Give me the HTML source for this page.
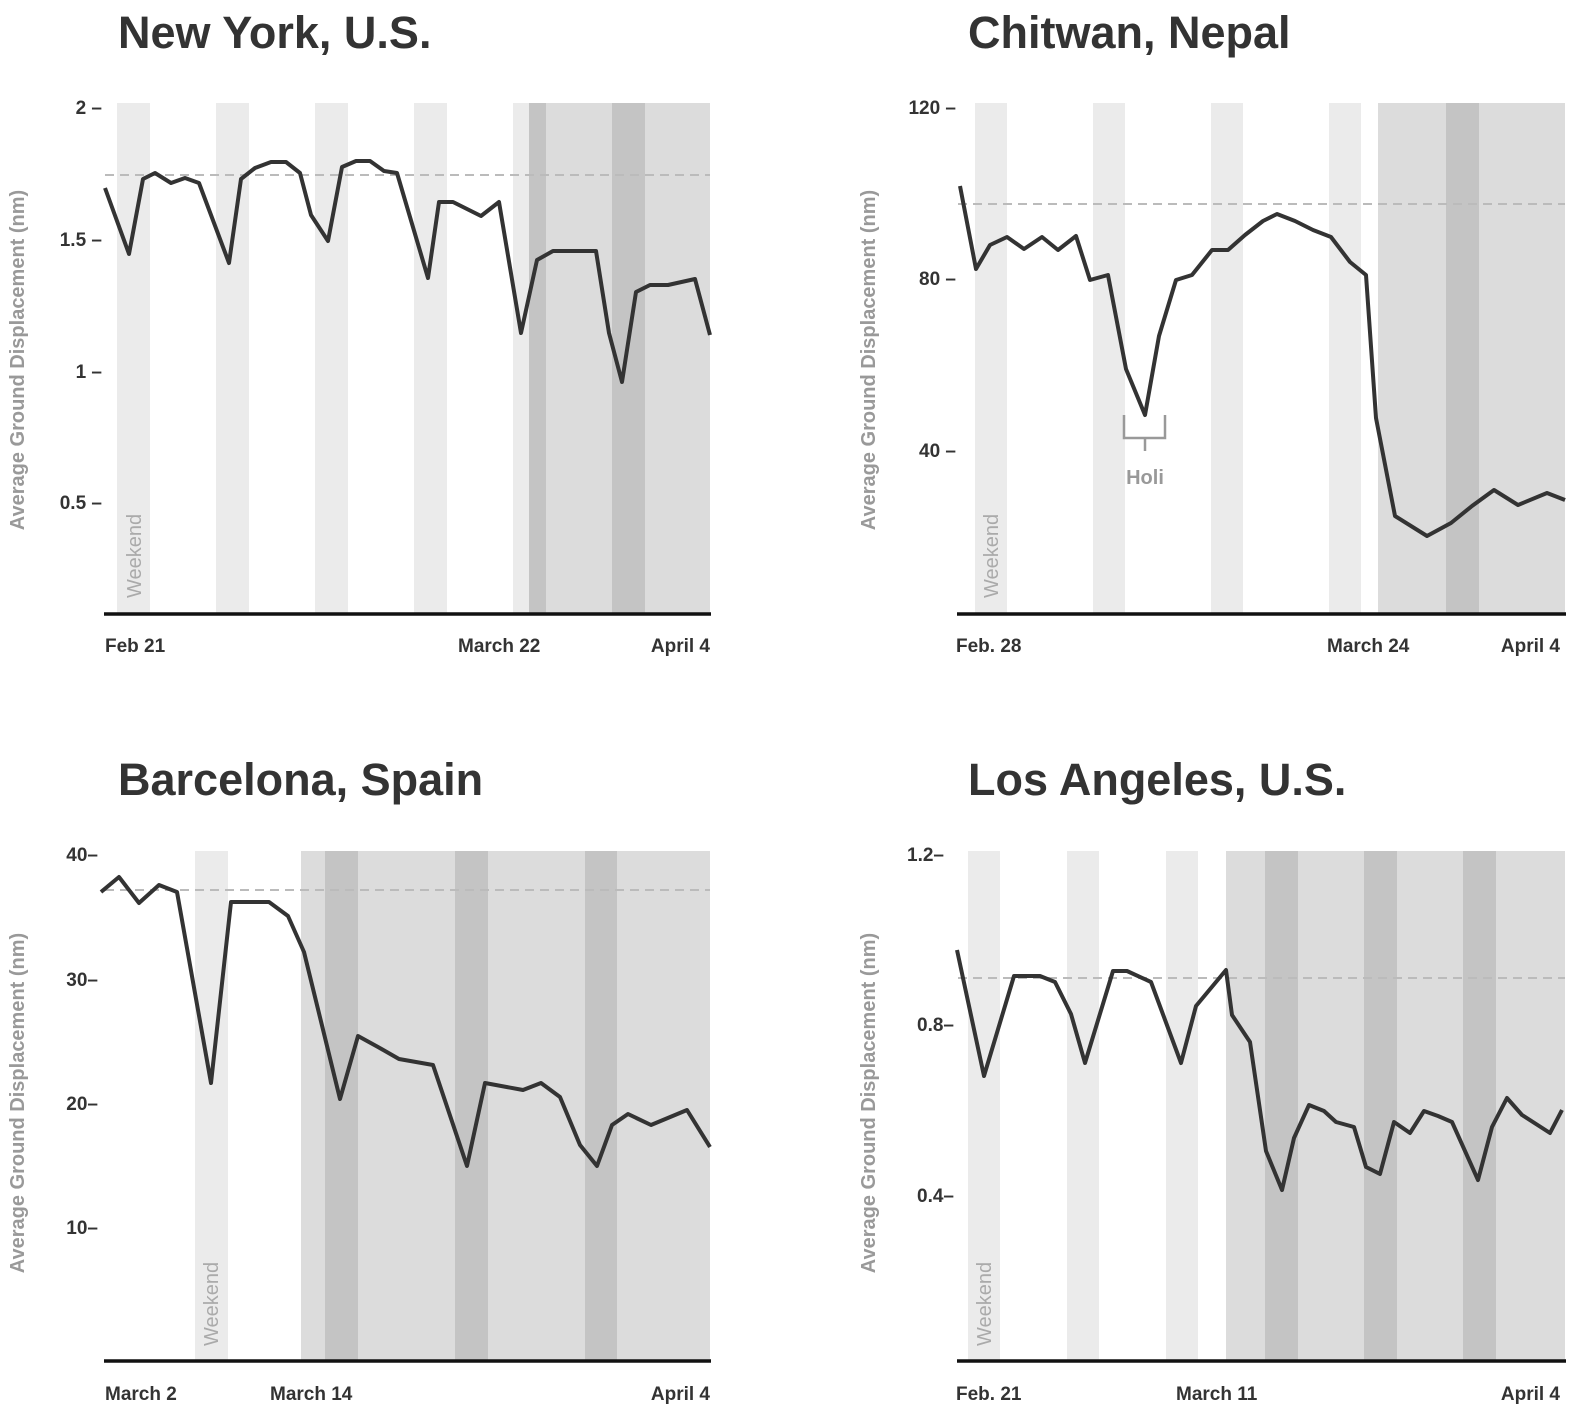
<!DOCTYPE html>
<html><head><meta charset="utf-8"><style>
html,body{margin:0;padding:0;background:#fff;width:1583px;height:1422px;overflow:hidden}
svg{display:block;font-family:"Liberation Sans",sans-serif}
.t{font-size:45px;font-weight:bold;fill:#333}
.tk{font-size:19px;font-weight:bold;fill:#333}
.ax{font-size:20px;font-weight:bold;fill:#999}
.wk{font-size:20px;fill:#aaa}
.ln{fill:none;stroke:#333;stroke-width:4;stroke-linejoin:round}
.ds{stroke:#bbb;stroke-width:2;stroke-dasharray:9 6}
.base{stroke:#111;stroke-width:3.5}
</style></head><body>
<svg width="1583" height="1422" viewBox="0 0 1583 1422">
<!-- NY -->
<text class="t" x="118" y="48">New York, U.S.</text>
<rect x="117" y="103" width="33" height="511" fill="#ebebeb"/>
<rect x="216" y="103" width="33" height="511" fill="#ebebeb"/>
<rect x="315" y="103" width="33" height="511" fill="#ebebeb"/>
<rect x="414" y="103" width="33" height="511" fill="#ebebeb"/>
<rect x="513" y="103" width="16" height="511" fill="#ebebeb"/>
<rect x="529" y="103" width="181" height="511" fill="#dcdcdc"/>
<rect x="529" y="103" width="17" height="511" fill="#c4c4c4"/>
<rect x="612" y="103" width="33" height="511" fill="#c4c4c4"/>
<line class="ds" x1="105" y1="175" x2="710" y2="175"/>
<polyline class="ln" points="105,188 129,254 143,179 155,173 171,183 185,178 199,183 229,263 241,179 255,168 271,162 286,162 300,173 311,215 328,241 342,167 356,161 370,161 384,171 397,173 428,278 439,202 453,202 481,216 499,202 521,333 537,260 553,251 596,251 609,333 622,382 636,292 650,285 668,285 695,279 710,335"/>
<line class="base" x1="104" y1="614" x2="711" y2="614"/>
<text class="tk" x="102" y="114" text-anchor="end">2 –</text>
<text class="tk" x="102" y="246" text-anchor="end">1.5 –</text>
<text class="tk" x="102" y="378" text-anchor="end">1 –</text>
<text class="tk" x="102" y="509" text-anchor="end">0.5 –</text>
<text class="ax" transform="translate(24,360) rotate(-90)" text-anchor="middle">Average Ground Displacement (nm)</text>
<text class="wk" transform="translate(141,598) rotate(-90)">Weekend</text>
<text class="tk" x="105" y="652">Feb 21</text>
<text class="tk" x="458" y="652">March 22</text>
<text class="tk" x="710" y="652" text-anchor="end">April 4</text>

<!-- Chitwan -->
<text class="t" x="968" y="48">Chitwan, Nepal</text>
<rect x="975" y="103" width="32" height="511" fill="#ebebeb"/>
<rect x="1093" y="103" width="32" height="511" fill="#ebebeb"/>
<rect x="1211" y="103" width="32" height="511" fill="#ebebeb"/>
<rect x="1329" y="103" width="32" height="511" fill="#ebebeb"/>
<rect x="1378" y="103" width="187" height="511" fill="#dcdcdc"/>
<rect x="1446" y="103" width="33" height="511" fill="#c4c4c4"/>
<line class="ds" x1="958" y1="204" x2="1565" y2="204"/>
<polyline class="ln" points="960,186 976,269 990,245 1007,237 1024,249 1042,237 1058,250 1076,236 1090,280 1108,275 1126,369 1145,415 1159,336 1176,280 1192,275 1212,250 1228,250 1245,235 1263,221 1277,214 1295,221 1313,230 1331,237 1350,262 1366,275 1376,418 1395,516 1427,536 1451,523 1472,506 1494,490 1518,505 1547,493 1565,500"/>
<path d="M1124,415 V438 H1165 V415 M1145,438 V451" fill="none" stroke="#999" stroke-width="2.5"/>
<text x="1145" y="484" text-anchor="middle" style="font-size:20px;font-weight:bold;fill:#999">Holi</text>
<line class="base" x1="957" y1="614" x2="1566" y2="614"/>
<text class="tk" x="956" y="114" text-anchor="end">120 –</text>
<text class="tk" x="956" y="285" text-anchor="end">80 –</text>
<text class="tk" x="956" y="457" text-anchor="end">40 –</text>
<text class="ax" transform="translate(875,360) rotate(-90)" text-anchor="middle">Average Ground Displacement (nm)</text>
<text class="wk" transform="translate(998,598) rotate(-90)">Weekend</text>
<text class="tk" x="956" y="652">Feb. 28</text>
<text class="tk" x="1327" y="652">March 24</text>
<text class="tk" x="1560" y="652" text-anchor="end">April 4</text>

<!-- Barcelona -->
<text class="t" x="118" y="795">Barcelona, Spain</text>
<rect x="195" y="851" width="33" height="510" fill="#ebebeb"/>
<rect x="301" y="851" width="409" height="510" fill="#dcdcdc"/>
<rect x="325" y="851" width="33" height="510" fill="#c4c4c4"/>
<rect x="455" y="851" width="33" height="510" fill="#c4c4c4"/>
<rect x="585" y="851" width="32" height="510" fill="#c4c4c4"/>
<line class="ds" x1="105" y1="890" x2="710" y2="890"/>
<polyline class="ln" points="101,892 119,877 139,903 159,885 177,892 211,1083 231,902 269,902 288,916 304,952 340,1099 358,1036 378,1047 399,1059 433,1065 467,1166 485,1083 523,1090 541,1083 560,1097 580,1145 597,1166 612,1125 628,1114 651,1125 687,1110 710,1147"/>
<line class="base" x1="104" y1="1361" x2="711" y2="1361"/>
<text class="tk" x="98" y="861" text-anchor="end">40–</text>
<text class="tk" x="98" y="986" text-anchor="end">30–</text>
<text class="tk" x="98" y="1110" text-anchor="end">20–</text>
<text class="tk" x="98" y="1234" text-anchor="end">10–</text>
<text class="ax" transform="translate(24,1103) rotate(-90)" text-anchor="middle">Average Ground Displacement (nm)</text>
<text class="wk" transform="translate(218,1346) rotate(-90)">Weekend</text>
<text class="tk" x="105" y="1400">March 2</text>
<text class="tk" x="270" y="1400">March 14</text>
<text class="tk" x="710" y="1400" text-anchor="end">April 4</text>

<!-- LA -->
<text class="t" x="968" y="795">Los Angeles, U.S.</text>
<rect x="968" y="851" width="32" height="510" fill="#ebebeb"/>
<rect x="1067" y="851" width="32" height="510" fill="#ebebeb"/>
<rect x="1166" y="851" width="32" height="510" fill="#ebebeb"/>
<rect x="1226" y="851" width="339" height="510" fill="#dcdcdc"/>
<rect x="1265" y="851" width="33" height="510" fill="#c4c4c4"/>
<rect x="1364" y="851" width="33" height="510" fill="#c4c4c4"/>
<rect x="1463" y="851" width="33" height="510" fill="#c4c4c4"/>
<line class="ds" x1="958" y1="978" x2="1565" y2="978"/>
<polyline class="ln" points="957,950 984,1076 1014,976 1040,976 1055,982 1071,1014 1085,1063 1113,971 1127,971 1151,982 1181,1063 1196,1006 1226,970 1232,1015 1250,1042 1266,1151 1282,1190 1294,1138 1309,1105 1324,1111 1336,1122 1354,1127 1366,1167 1380,1174 1394,1122 1410,1133 1424,1111 1438,1116 1452,1122 1478,1180 1492,1127 1507,1098 1522,1115 1550,1133 1562,1110"/>
<line class="base" x1="957" y1="1361" x2="1566" y2="1361"/>
<text class="tk" x="944" y="861" text-anchor="end">1.2–</text>
<text class="tk" x="954" y="1031" text-anchor="end">0.8–</text>
<text class="tk" x="954" y="1202" text-anchor="end">0.4–</text>
<text class="ax" transform="translate(875,1103) rotate(-90)" text-anchor="middle">Average Ground Displacement (nm)</text>
<text class="wk" transform="translate(991,1346) rotate(-90)">Weekend</text>
<text class="tk" x="956" y="1400">Feb. 21</text>
<text class="tk" x="1176" y="1400">March 11</text>
<text class="tk" x="1560" y="1400" text-anchor="end">April 4</text>
</svg>
</body></html>
